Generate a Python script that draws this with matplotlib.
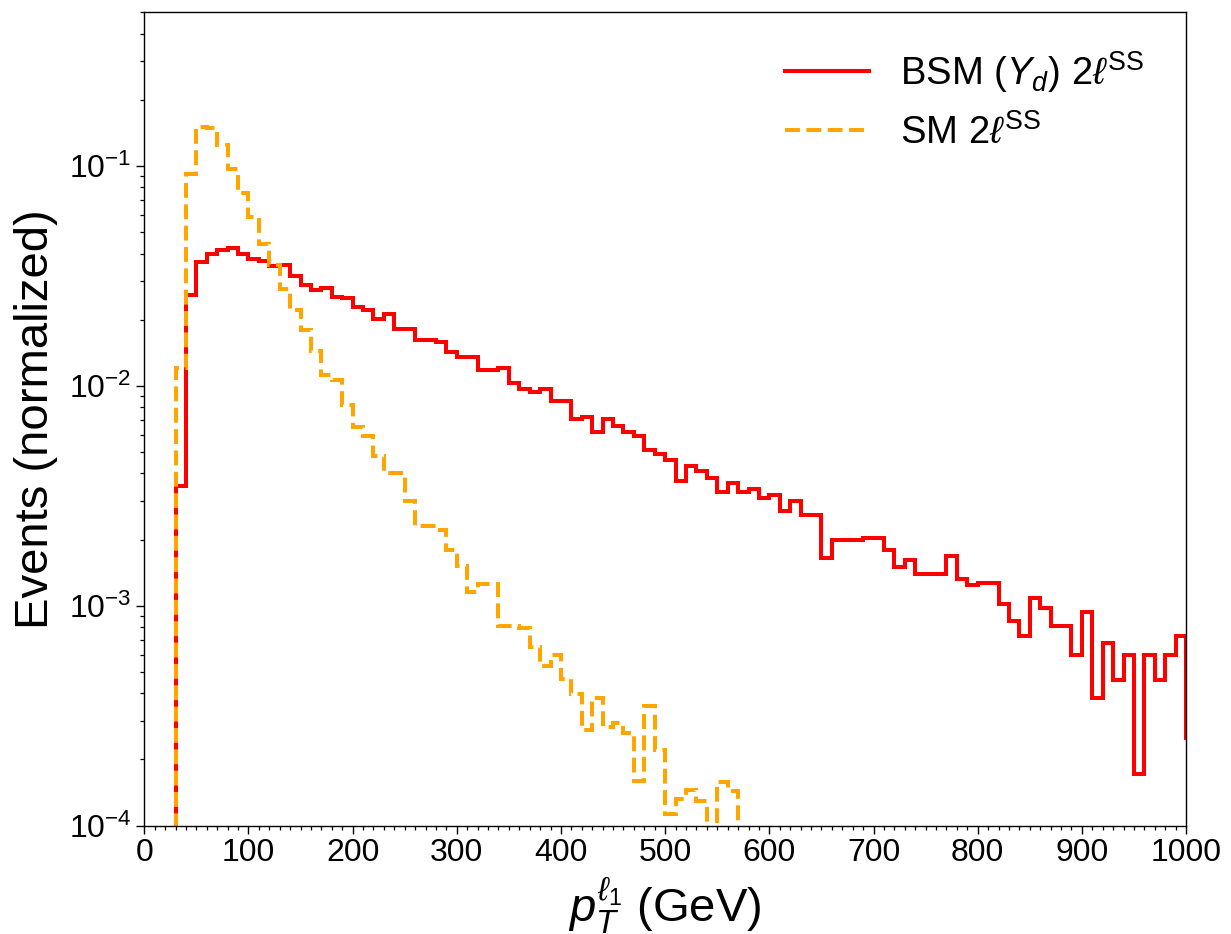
"""
Leading lepton pT distribution, BSM (Y_d) vs SM same-sign dilepton,
normalized step histograms on a log scale.
"""

import numpy as np
import matplotlib

matplotlib.use("Agg")
import matplotlib.pyplot as plt
from matplotlib.ticker import MultipleLocator

plt.rcParams["font.family"] = ["Liberation Sans", "DejaVu Sans"]
plt.rcParams["mathtext.fontset"] = "custom"
plt.rcParams["mathtext.rm"] = "Liberation Sans"
plt.rcParams["mathtext.it"] = "Liberation Sans:italic"
plt.rcParams["mathtext.bf"] = "Liberation Sans:bold"

# 10 GeV bins, both samples start at the 30 GeV cut
BSM_EDGES = np.arange(30, 1011, 10)
SM_EDGES = np.arange(30, 571, 10)

# BSM (Y_d) 2l SS, normalized
BSM_VALUES = [
    0.0035, 0.026, 0.0366, 0.040, 0.0414, 0.0425, 0.0398, 0.0376, 0.0371, 0.0352,
    0.0354, 0.0317, 0.0288, 0.0273, 0.0278, 0.0253, 0.0251, 0.0229, 0.0222, 0.0202,
    0.0212, 0.0182, 0.0182, 0.0162, 0.0162, 0.0159, 0.0143, 0.0136, 0.0136, 0.0118,
    0.0118, 0.0121, 0.0103, 0.0097, 0.0094, 0.0097, 0.0085, 0.0085, 0.0071, 0.0072,
    0.0062, 0.0071, 0.0066, 0.0062, 0.0059, 0.0051, 0.0049, 0.0046, 0.0037, 0.0043,
    0.0041, 0.0038, 0.0033, 0.0036, 0.0033, 0.0034, 0.0031, 0.0032, 0.0027, 0.0030,
    0.0026, 0.0026, 0.00165, 0.0020, 0.0020, 0.0020, 0.00203, 0.00203, 0.0018, 0.0015,
    0.00161, 0.00139, 0.00139, 0.00139, 0.00168, 0.00132, 0.00124, 0.00127, 0.00127, 0.00102,
    0.00085, 0.00073, 0.00109, 0.00098, 0.00081, 0.00081, 0.00060, 0.00094, 0.00038, 0.00068,
    0.00046, 0.00060, 0.000171, 0.00060, 0.00046, 0.00060, 0.00073, 0.00025,
]

# SM 2l SS, normalized
SM_VALUES = [
    0.012, 0.092, 0.151, 0.149, 0.124, 0.097, 0.075, 0.0587, 0.0443, 0.0354,
    0.0275, 0.0221, 0.0179, 0.0144, 0.0112, 0.0106, 0.0082, 0.0065, 0.0059, 0.0048,
    0.0040, 0.0040, 0.0030, 0.0023, 0.0023, 0.0022, 0.0018, 0.00152, 0.00115, 0.00125,
    0.00125, 0.00081, 0.00081, 0.00079, 0.00065, 0.00053, 0.00060, 0.000466, 0.000395, 0.000271,
    0.00038, 0.00028, 0.000293, 0.000265, 0.000159, 0.00035, 0.000222, 0.000113, 0.000132, 0.000146,
    0.00013, 0.00006, 0.000158, 0.000144,
]

LABEL_BSM = r"BSM $(Y_d)$ $2\ell^{\mathrm{SS}}$"
LABEL_SM = r"SM $2\ell^{\mathrm{SS}}$"


def main():
    fig = plt.figure(figsize=(12.31, 9.34), dpi=100)
    ax = fig.add_axes([0.1172, 0.116, 0.8463, 0.8708])

    ax.stairs(BSM_VALUES, BSM_EDGES, baseline=0, color="red", lw=2.9, label=LABEL_BSM)
    ax.stairs(SM_VALUES, SM_EDGES, baseline=0, color="orange", lw=2.9,
              linestyle="--", label=LABEL_SM)

    ax.set_yscale("log")
    ax.set_xlim(0, 1000)
    ax.set_ylim(1e-4, 0.5)

    ax.xaxis.set_major_locator(MultipleLocator(100))
    ax.xaxis.set_minor_locator(MultipleLocator(10))
    ax.tick_params(which="major", length=6, width=1, labelsize=23, pad=3)
    ax.tick_params(which="minor", length=3, width=0.9)
    for side in ax.spines.values():
        side.set_linewidth(1.0)

    ax.set_xlabel(r"$p_T^{\ell_1}$ (GeV)", fontsize=34, labelpad=5)
    ax.set_ylabel("Events (normalized)", fontsize=34)
    ax.yaxis.set_label_coords(-0.083, 0.5)

    ax.legend(loc="upper right", bbox_to_anchor=(0.992, 0.997), frameon=False,
              fontsize=27.5, handlelength=2.2, handletextpad=0.8, labelspacing=0.5)

    fig.savefig("out.png", dpi=100)
    plt.close(fig)


if __name__ == "__main__":
    main()
